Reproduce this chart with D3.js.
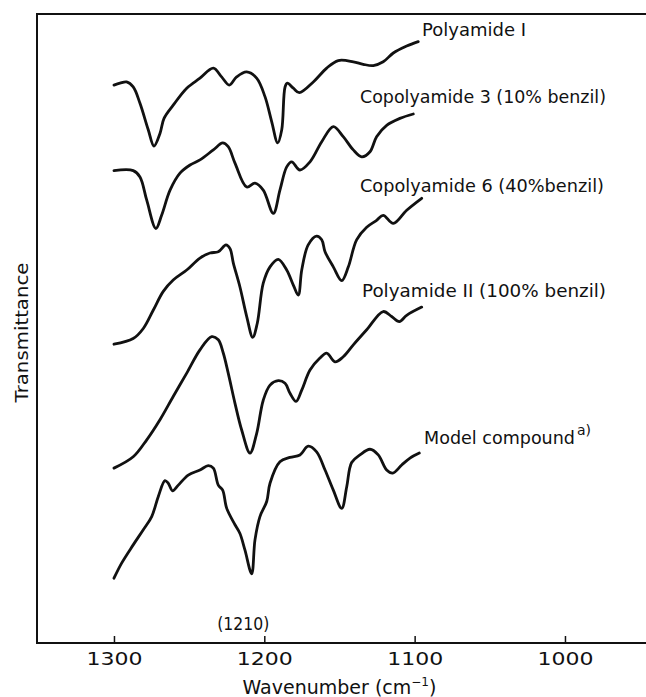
<!DOCTYPE html>
<html>
<head>
<meta charset="utf-8">
<script src="https://cdn.jsdelivr.net/npm/d3@7"></script>
<style>
  body { margin: 0; background: #fff; }
  svg text { font-family: "DejaVu Sans", sans-serif; fill: #111; }
</style>
</head>
<body>
<div class="chart"></div>
<script>
// IR spectra, wavenumber (cm-1) vs relative transmittance (curves offset, arbitrary units)
var polyamide1 = [
  [1300,88.7],[1296.0,89.0],[1291.6,89.2],[1287.2,88.4],[1282.7,85.8],[1277.2,81.6],[1273.4,79.0],
  [1269.4,81.0],[1266.7,83.4],[1260.6,85.5],[1251.6,88.2],[1242.8,89.8],[1233.9,91.4],[1228.4,90.0],
  [1223.3,88.7],[1218.4,90.0],[1211.7,90.8],[1205.1,89.8],[1199.6,86.9],[1195.1,82.9],[1191.1,79.5],
  [1188.4,81.6],[1186.2,88.4],[1184.7,89.0],[1180.7,88.2],[1176.7,87.5],[1167.4,89.2],[1158.5,91.4],
  [1150.8,92.6],[1140.8,92.4],[1134.2,92.0],[1127.5,91.8],[1120.9,92.4],[1114.2,93.8],[1105.3,94.9],
  [1097.6,95.6]
];
var copolyamide3 = [
  [1300,75.1],[1287.2,75.1],[1282.7,74.1],[1278.2,70.4],[1272.1,65.9],[1268.3,68.0],[1262.7,72.0],
  [1256.1,74.7],[1249.4,76.0],[1242.8,76.8],[1233.9,78.4],[1227.7,79.5],[1224.0,78.9],[1219.5,76.3],
  [1211.7,72.5],[1206.2,73.1],[1200.7,72.0],[1194.0,68.3],[1189.6,72.0],[1185.1,75.7],[1181.8,76.5],
  [1176.3,75.2],[1169.6,76.5],[1161.8,79.7],[1154.1,82.1],[1147.5,80.5],[1140.8,78.4],[1135.2,77.3],
  [1129.7,78.1],[1125.3,80.5],[1118.6,82.3],[1109.8,83.4],[1100.9,84.1]
];
var copolyamide6 = [
  [1300,47.5],[1287.2,48.4],[1280.5,50.0],[1273.9,52.9],[1267.2,55.9],[1260.6,57.7],[1251.6,59.3],
  [1242.8,61.2],[1236.1,62.0],[1230.6,62.2],[1225.5,63.3],[1222.8,62.7],[1220.6,60.4],[1216.2,56.6],
  [1211.7,51.9],[1207.7,48.6],[1204.7,50.8],[1200.7,57.2],[1196.2,59.8],[1190.7,61.0],[1185.1,59.3],
  [1180.7,56.9],[1177.4,55.3],[1175.1,59.3],[1170.8,63.3],[1165.2,64.7],[1161.8,64.1],[1159.6,62.2],
  [1154.1,59.8],[1148.5,57.6],[1144.1,59.8],[1138.6,64.1],[1131.9,66.1],[1125.3,67.2],[1120.9,68.0],
  [1114.2,66.7],[1105.3,68.8],[1095.3,70.7]
];
var polyamide2 = [
  [1300,27.8],[1287.2,29.6],[1278.2,32.3],[1269.4,35.5],[1260.6,39.2],[1251.6,42.9],[1242.8,46.6],
  [1235.0,48.7],[1230.6,48.2],[1227.3,46.1],[1224.0,42.9],[1219.5,38.1],[1215.1,33.9],[1209.5,30.2],
  [1205.1,33.3],[1200.7,38.6],[1196.2,41.0],[1190.7,41.7],[1186.2,41.3],[1182.9,39.7],[1178.9,38.4],
  [1175.1,40.2],[1169.6,43.4],[1163.0,45.3],[1158.5,46.1],[1153.0,44.7],[1147.5,45.5],[1140.8,47.4],
  [1131.9,49.8],[1120.9,52.7],[1115.3,51.9],[1110.2,51.1],[1105.3,52.1],[1095.3,53.4]
];
var modelCompound = [
  [1300,10.3],[1294.9,12.7],[1287.2,15.6],[1280.5,18.0],[1274.9,20.1],[1270.5,23.3],[1266.1,25.8],
  [1263.9,25.4],[1261.0,24.2],[1257.2,25.1],[1250.6,26.7],[1242.8,27.5],[1237.3,28.2],[1233.9,27.8],
  [1230.6,25.1],[1227.7,24.3],[1225.0,21.4],[1219.5,18.8],[1216.2,17.4],[1212.9,14.8],[1208.4,11.0],
  [1206.2,16.4],[1202.9,20.1],[1198.4,22.5],[1196.2,25.4],[1189.6,28.8],[1182.9,29.5],[1176.3,29.9],
  [1170.8,31.3],[1165.2,30.4],[1159.6,27.5],[1154.1,24.3],[1148.5,21.4],[1145.2,24.8],[1141.9,28.7],
  [1136.4,29.9],[1129.7,30.8],[1124.2,29.9],[1118.6,27.5],[1114.6,27.0],[1108.6,28.3],[1103.1,29.4],
  [1096.9,30.2]
];

var seriesNames = ["Polyamide I", "Copolyamide 3 (10% benzil)", "Copolyamide 6 (40%benzil)",
                   "Polyamide II (100% benzil)", "Model compound"];
var seriesData = [polyamide1, copolyamide3, copolyamide6, polyamide2, modelCompound];
var xTicks = [1300, 1200, 1100, 1000];
var markedBand = 1210;

var width = 646, height = 697;
var plot = { left: 37, top: 14, right: 646, bottom: 643 };

var svg = d3.select(".chart").append("svg")
  .attr("width", width)
  .attr("height", height);

var x = d3.scaleLinear().domain([1351.2, 946.1]).range([plot.left, plot.right]);
var y = d3.scaleLinear().domain([0, 100]).range([plot.bottom, plot.top]);

// frame (left, top, bottom)
svg.append("path")
  .attr("d", `M${plot.right},${plot.top}H${plot.left}V${plot.bottom}H${plot.right}`)
  .attr("fill", "none")
  .attr("stroke", "#111")
  .attr("stroke-width", 2);

// bottom axis with inward ticks
var axis = svg.append("g")
  .attr("transform", `translate(0,${plot.bottom})`)
  .call(d3.axisBottom(x).tickValues(xTicks).tickSize(-7).tickPadding(9).tickFormat(d3.format("d")));
axis.select(".domain").remove();
axis.selectAll(".tick line").attr("stroke", "#111").attr("stroke-width", 1.5);
axis.selectAll(".tick text")
  .attr("font-size", 18)
  .attr("font-family", "DejaVu Sans")
  .attr("fill", "#111")
  .attr("textLength", 56)
  .attr("lengthAdjust", "spacingAndGlyphs");

// spectra
var line = d3.line()
  .x(d => x(d[0]))
  .y(d => y(d[1]))
  .curve(d3.curveCatmullRom.alpha(0.5));

svg.selectAll(".spectrum")
  .data(seriesData)
  .enter()
  .append("path")
  .attr("class", "spectrum")
  .attr("d", line)
  .attr("fill", "none")
  .attr("stroke", "#111")
  .attr("stroke-width", 2.8)
  .attr("stroke-linejoin", "round")
  .attr("stroke-linecap", "round");

// curve labels
var labelPos = [
  { x: 422, y: 36, len: 104 },
  { x: 360, y: 103, len: 246 },
  { x: 360, y: 192, len: 244 },
  { x: 362, y: 297, len: 244 },
  { x: 424, y: 444, len: 151 }
];
seriesNames.forEach(function(name, i) {
  var p = labelPos[i];
  svg.append("text")
    .attr("x", p.x)
    .attr("y", p.y)
    .attr("font-size", 18)
    .attr("textLength", p.len)
    .attr("lengthAdjust", "spacingAndGlyphs")
    .text(name);
});
// superscript a) on model compound
svg.append("text")
  .attr("x", 577)
  .attr("y", 435)
  .attr("font-size", 14)
  .text("a)");

// band marker
svg.append("text")
  .attr("x", x(markedBand) - 6)
  .attr("y", 630)
  .attr("text-anchor", "middle")
  .attr("font-size", 18)
  .attr("textLength", 52)
  .attr("lengthAdjust", "spacingAndGlyphs")
  .text("(" + markedBand + ")");

// axis titles
var xTitle = svg.append("text")
  .attr("x", x(1150))
  .attr("y", 694)
  .attr("text-anchor", "middle")
  .attr("font-size", 19);
xTitle.append("tspan").text("Wavenumber (cm");
xTitle.append("tspan").attr("font-size", 12).attr("dy", -8).text("−1");
xTitle.append("tspan").attr("dy", 8).text(")");

svg.append("text")
  .attr("transform", `translate(28,${(plot.top + plot.bottom) / 2 + 4}) rotate(-90)`)
  .attr("text-anchor", "middle")
  .attr("font-size", 18)
  .attr("textLength", 140)
  .attr("lengthAdjust", "spacingAndGlyphs")
  .text("Transmittance");
</script>
</body>
</html>
